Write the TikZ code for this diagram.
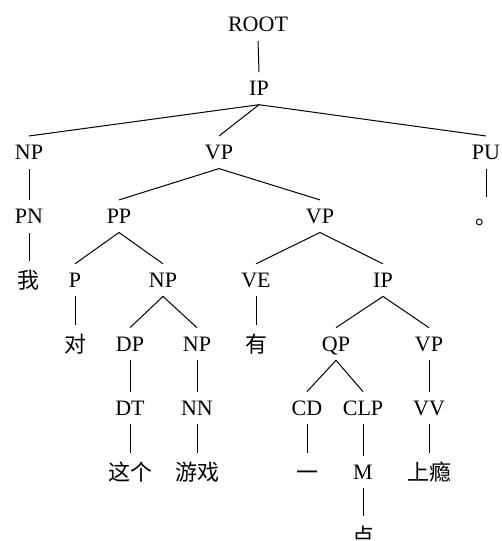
\documentclass[tikz,border=0pt]{standalone}
\usepackage{fontspec}
\setmainfont{Liberation Serif}
\newfontfamily\cjk{Noto Sans CJK SC}

\tikzset{
  tag/.style={inner xsep=1pt, inner ysep=4.3pt, text height=7.3pt, text depth=0pt,
    font=\fontsize{11}{13}\selectfont},
  word/.style={inner xsep=1pt, inner ysep=4.3pt, text height=9.3pt, text depth=1pt,
    font=\fontsize{11}{13}\selectfont\cjk},
  branch/.style={line width=0.5pt},
}

\begin{document}
\begin{tikzpicture}[x=0.5pt,y=-0.5pt]
\useasboundingbox (0,0) rectangle (502,541);

% level 0-2
\node[tag] (root) at (258,24.5) {ROOT};
\node[tag] (ip1) at (259,88.4) {IP};
\node[tag] (np1) at (29,152.3) {NP};
\node[tag] (vp1) at (219,152.3) {VP};
\node[tag] (pu) at (486,152.3) {PU};

% level 3
\node[tag] (pn) at (29,216.2) {PN};
\node[tag] (pp) at (119,216.2) {PP};
\node[tag] (vp2) at (320,216.2) {VP};
\node[word] (juhao) at (486,216.2) {。};

% level 4
\node[word] (wo) at (29,280.1) {我};
\node[tag] (p) at (75,280.1) {P};
\node[tag] (np2) at (163,280.1) {NP};
\node[tag] (ve) at (256,280.1) {VE};
\node[tag] (ip2) at (383,280.1) {IP};

% level 5
\node[word] (dui) at (75,344) {对};
\node[tag] (dp) at (130,344) {DP};
\node[tag] (np3) at (197,344) {NP};
\node[word] (you) at (256,344) {有};
\node[tag] (qp) at (336,344) {QP};
\node[tag] (vp3) at (429,344) {VP};

% level 6
\node[tag] (dt) at (130,407.9) {DT};
\node[tag] (nn) at (197,407.9) {NN};
\node[tag] (cd) at (307,407.9) {CD};
\node[tag] (clp) at (363,407.9) {CLP};
\node[tag] (vv) at (429,407.9) {VV};

% level 7-8
\node[word] (zhege) at (130,471.8) {这个};
\node[word] (youxi) at (197,471.8) {游戏};
\node[word] (yi) at (307,471.8) {一};
\node[tag] (m) at (363,471.8) {M};
\node[word] (shangyin) at (429,471.8) {上瘾};
\node[word] (dian) at (363,535.7) {点};

\draw[branch] (root.south)--(ip1.north);
\draw[branch] (ip1.south)--(np1.north);
\draw[branch] (ip1.south)--(vp1.north);
\draw[branch] (ip1.south)--(pu.north);

\draw[branch] (np1.south)--(pn.north);
\draw[branch] (pn.south)--(wo.north);
\draw[branch] (pu.south)--(juhao.north);

\draw[branch] (vp1.south)--(pp.north);
\draw[branch] (vp1.south)--(vp2.north);

\draw[branch] (pp.south)--(p.north);
\draw[branch] (pp.south)--(np2.north);
\draw[branch] (p.south)--(dui.north);
\draw[branch] (np2.south)--(dp.north);
\draw[branch] (np2.south)--(np3.north);
\draw[branch] (dp.south)--(dt.north);
\draw[branch] (np3.south)--(nn.north);
\draw[branch] (dt.south)--(zhege.north);
\draw[branch] (nn.south)--(youxi.north);

\draw[branch] (vp2.south)--(ve.north);
\draw[branch] (vp2.south)--(ip2.north);
\draw[branch] (ve.south)--(you.north);
\draw[branch] (ip2.south)--(qp.north);
\draw[branch] (ip2.south)--(vp3.north);
\draw[branch] (qp.south)--(cd.north);
\draw[branch] (qp.south)--(clp.north);
\draw[branch] (vp3.south)--(vv.north);
\draw[branch] (cd.south)--(yi.north);
\draw[branch] (clp.south)--(m.north);
\draw[branch] (vv.south)--(shangyin.north);
\draw[branch] (m.south)--(dian.north);
\end{tikzpicture}
\end{document}
